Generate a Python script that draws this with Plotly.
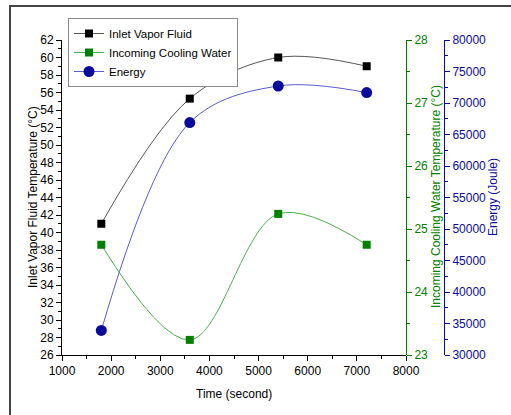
import plotly.graph_objects as go

time_s = [1800, 3600, 5400, 7200]
inlet_vapor = [41.0, 55.3, 60.0, 59.0]
cooling_water = [24.75, 23.24, 25.24, 24.75]
energy = [33900, 66900, 72700, 71650]

W, H = 511, 415
L, R, T, B = 62, 10, 40, 60
pw = W - L - R
ph = H - T - B
def px2x(p):
    return (p - L) / pw
def py2y(p):
    return (H - B - p) / ph

x_end = px2x(406)
blue_pos = px2x(444)

FONT = "Liberation Sans, Arial, sans-serif"
GREEN = "#008000"
BLUE = "#0a0a9c"

fig = go.Figure()
fig.add_trace(go.Scatter(
    x=time_s, y=inlet_vapor, name="Inlet Vapor Fluid",
    mode="lines+markers", line=dict(color="#555555", width=1, shape="spline", smoothing=1),
    marker=dict(symbol="square", size=8, color="black"), yaxis="y"))
fig.add_trace(go.Scatter(
    x=time_s, y=cooling_water, name="Incoming Cooling Water",
    mode="lines+markers", line=dict(color="#4caf4c", width=1, shape="spline", smoothing=1),
    marker=dict(symbol="square", size=8, color=GREEN), yaxis="y2"))
fig.add_trace(go.Scatter(
    x=time_s, y=energy, name="Energy",
    mode="lines+markers", line=dict(color="#5a5ad0", width=1, shape="spline", smoothing=1),
    marker=dict(symbol="circle", size=11, color=BLUE), yaxis="y3"))

axis_common = dict(showgrid=False, zeroline=False, showline=True, ticks="outside",
                   ticklen=5, tickwidth=1, automargin=False)

fig.update_layout(
    width=W, height=H,
    margin=dict(l=L, r=R, t=T, b=B, autoexpand=False),
    paper_bgcolor="white", plot_bgcolor="white",
    font=dict(family=FONT, size=12, color="black"),
    showlegend=True,
    legend=dict(xref="container", yref="container", x=68 / W, y=1 - 18 / H,
                xanchor="left", yanchor="top",
                bgcolor="white", bordercolor="#888888", borderwidth=1,
                font=dict(size=11.5, family=FONT), tracegroupgap=0),
    xaxis=dict(domain=[0, x_end], range=[1000, 8000], dtick=1000, linecolor="black",
               tickcolor="black", tickfont=dict(size=12, family=FONT, color="black"),
               minor=dict(dtick=500, ticklen=3, ticks="outside", tickcolor="black"),
               **axis_common),
    yaxis=dict(range=[26, 62], dtick=2, linecolor="black", tickcolor="black",
               tickfont=dict(size=12, family=FONT, color="black"),
               minor=dict(dtick=1, ticklen=3, ticks="outside", tickcolor="black"),
               **axis_common),
    yaxis2=dict(range=[23, 28], dtick=1, overlaying="y", anchor="free", position=x_end,
                side="right", linecolor=GREEN, tickcolor=GREEN,
                tickfont=dict(size=12, family=FONT, color=GREEN),
                minor=dict(dtick=0.5, ticklen=3, ticks="outside", tickcolor=GREEN),
                **axis_common),
    yaxis3=dict(range=[30000, 80000], dtick=5000, overlaying="y", anchor="free",
                position=blue_pos, side="right", linecolor=BLUE, tickcolor=BLUE,
                tickformat="d", tickfont=dict(size=12, family=FONT, color=BLUE),
                minor=dict(dtick=2500, ticklen=3, ticks="outside", tickcolor=BLUE),
                **axis_common),
)

annots = [
    dict(text="Time (second)", x=px2x(234), y=py2y(394), textangle=0, color="black"),
    dict(text="Inlet Vapor Fluid Temperature (\u00b0C)", x=px2x(33), y=py2y(197), textangle=-90, color="black"),
    dict(text="Incoming Cooling Water Temperature (\u00b0C)", x=px2x(436), y=py2y(197), textangle=-90, color=GREEN),
    dict(text="Energy (Joule)", x=px2x(493), y=py2y(197), textangle=-90, color=BLUE),
]
for a in annots:
    fig.add_annotation(text=a["text"], x=a["x"], y=a["y"], xref="paper", yref="paper",
                       xanchor="center", yanchor="middle", showarrow=False,
                       textangle=a["textangle"], font=dict(size=12, family=FONT, color=a["color"]))

fig.add_shape(type="rect", xref="paper", yref="paper",
              x0=px2x(10), y0=py2y(425), x1=px2x(525), y1=py2y(6),
              line=dict(color="#444444", width=2), fillcolor="rgba(0,0,0,0)", layer="above")

fig.write_html("out.html", config={"displayModeBar": False},
               post_script="document.body.style.margin='0';")
